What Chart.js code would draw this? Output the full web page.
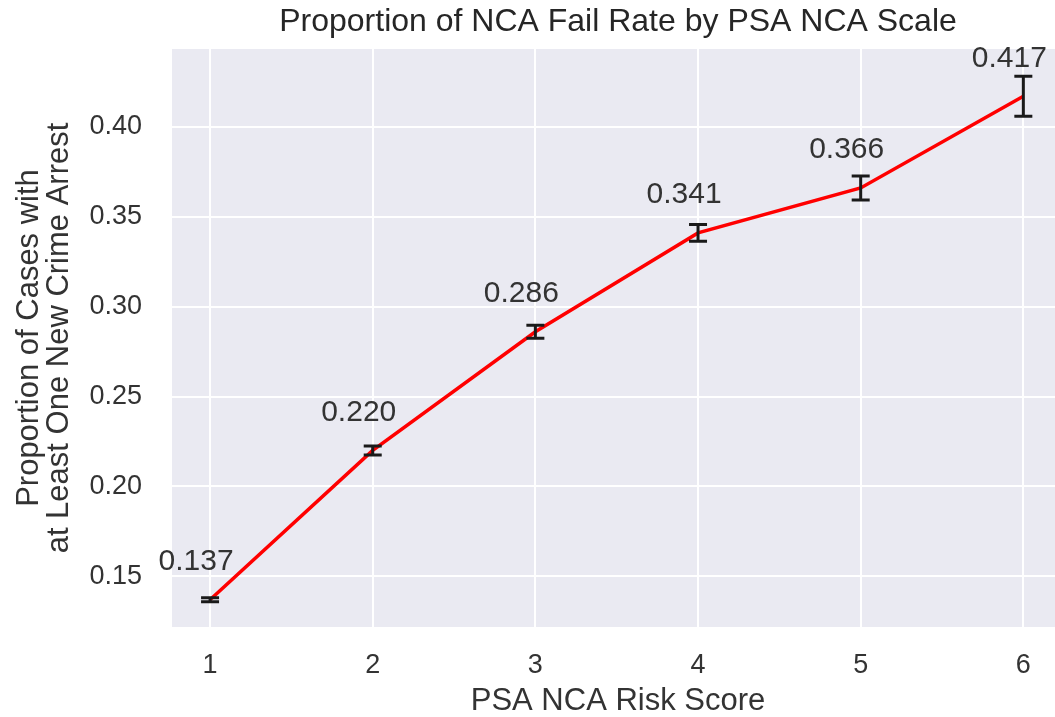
<!DOCTYPE html>
<html>
<head>
<meta charset="utf-8">
<script src="https://cdn.jsdelivr.net/npm/chart.js@4"></script>
<style>
  html, body { margin: 0; padding: 0; background: #fff; overflow: hidden; }
  #wrap { width: 1070px; height: 717px; }
</style>
</head>
<body>
<div id="wrap"><canvas id="myChart"></canvas></div>
<script>
var scores = [1, 2, 3, 4, 5, 6];
var failRate = [0.137, 0.220, 0.286, 0.341, 0.366, 0.417];
var failErr = [0.0011, 0.0025, 0.0036, 0.0047, 0.0067, 0.0111];
var yTicks = [0.15, 0.20, 0.25, 0.30, 0.35, 0.40];

var FONT = '"Liberation Sans", Arial, sans-serif';
var ctx = document.getElementById('myChart');

// grey plot background, like seaborn darkgrid
var bgPlugin = {
    id: 'plotBg',
    beforeDraw: function (chart) {
        var a = chart.chartArea, c = chart.ctx;
        c.save();
        c.fillStyle = '#eaeaf2';
        c.fillRect(a.left, a.top, a.right - a.left, a.bottom - a.top);
        c.restore();
    }
};

// error bars and value labels
var errPlugin = {
    id: 'errBars',
    afterDatasetsDraw: function (chart) {
        var c = chart.ctx, xs = chart.scales.x, ys = chart.scales.y;
        c.save();
        c.strokeStyle = '#1a1a1a';
        c.lineWidth = 3;
        for (var i = 0; i < scores.length; i++) {
            var x = xs.getPixelForValue(scores[i]);
            var y1 = ys.getPixelForValue(failRate[i] - failErr[i]);
            var y2 = ys.getPixelForValue(failRate[i] + failErr[i]);
            c.beginPath();
            c.moveTo(x, y1); c.lineTo(x, y2);
            c.moveTo(x - 9, y1); c.lineTo(x + 9, y1);
            c.moveTo(x - 9, y2); c.lineTo(x + 9, y2);
            c.stroke();
        }
        c.fillStyle = '#333333';
        c.font = '30px ' + FONT;
        c.textAlign = 'center';
        c.textBaseline = 'middle';
        for (var j = 0; j < scores.length; j++) {
            var px = xs.getPixelForValue(scores[j]);
            var py = ys.getPixelForValue(failRate[j]);
            c.fillText(failRate[j].toFixed(3), px - 14, py - 38);
        }
        c.restore();
    }
};

var myChart = new Chart(ctx, {
    type: 'line',
    data: {
        datasets: [{
            label: 'NCA fail rate',
            data: scores.map(function (s, i) { return { x: s, y: failRate[i] }; }),
            borderColor: '#ff0000',
            borderWidth: 3.5,
            pointRadius: 0,
            tension: 0,
            fill: false
        }]
    },
    options: {
        responsive: true,
        maintainAspectRatio: false,
        animation: false,
        layout: { padding: { left: 10, right: 6, top: 0, bottom: 0 } },
        plugins: {
            legend: { display: false },
            tooltip: { enabled: false },
            title: {
                display: true,
                text: 'Proportion of NCA Fail Rate by PSA NCA Scale',
                fullSize: false,
                color: '#262626',
                font: { family: FONT, size: 32, weight: 'normal', lineHeight: 1.2 },
                padding: { top: 3, bottom: 7.6 }
            }
        },
        scales: {
            x: {
                type: 'linear',
                min: 0.766,
                max: 6.25,
                afterBuildTicks: function (axis) {
                    axis.ticks = scores.map(function (v) { return { value: v }; });
                },
                afterFit: function (axis) { axis.height = 90; },
                grid: { color: '#ffffff', lineWidth: 2, drawTicks: false },
                border: { display: false },
                ticks: {
                    color: '#333333',
                    padding: 22,
                    font: { family: FONT, size: 27 }
                },
                title: {
                    display: true,
                    text: 'PSA NCA Risk Score',
                    color: '#333333',
                    font: { family: FONT, size: 31, lineHeight: 1.0 },
                    padding: { top: 0, bottom: 0 }
                }
            },
            y: {
                min: 0.1218,
                max: 0.4433,
                afterBuildTicks: function (axis) {
                    axis.ticks = yTicks.map(function (v) { return { value: v }; });
                },
                afterFit: function (axis) { axis.width = 162; },
                grid: { color: '#ffffff', lineWidth: 2, drawTicks: false },
                border: { display: false },
                ticks: {
                    color: '#333333',
                    padding: 30,
                    font: { family: FONT, size: 27 },
                    callback: function (v) { return v.toFixed(2); }
                },
                title: {
                    display: true,
                    text: ['Proportion of Cases with', 'at Least One New Crime Arrest'],
                    color: '#333333',
                    font: { family: FONT, size: 31, lineHeight: 0.98 },
                    padding: { top: 4, bottom: 0 }
                }
            }
        }
    },
    plugins: [bgPlugin, errPlugin]
});
</script>
</body>
</html>
